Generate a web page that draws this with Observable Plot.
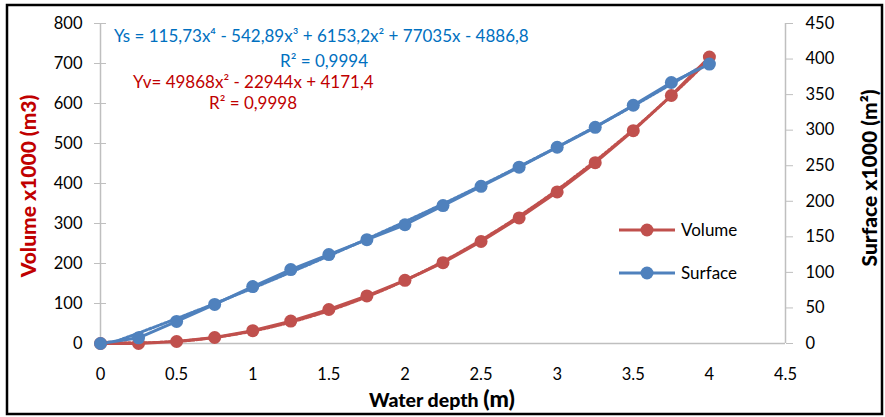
<!DOCTYPE html>
<html>
<head>
<meta charset="utf-8">
<script src="https://cdn.jsdelivr.net/npm/d3@7"></script>
<script src="https://cdn.jsdelivr.net/npm/@observablehq/plot@0.6"></script>
<style>
  html, body { margin: 0; padding: 0; background: #fff; }
  #chart svg { display: block; }
</style>
</head>
<body>
<div id="chart"></div>
<script>
// ---- Data ----
const depth   = [0, 0.25, 0.5, 0.75, 1, 1.25, 1.5, 1.75, 2, 2.25, 2.5, 2.75, 3, 3.25, 3.5, 3.75, 4];
const volume  = [0, 0, 5, 15, 32, 56, 85, 119, 158, 202, 255, 314, 379, 452, 532, 620, 716];
const surface = [0, 8, 31, 55, 80, 104, 125, 146, 167, 194, 221, 248, 276, 304, 335, 367, 393];

// trendline coefficients shown on the chart (m3 and m2, divided by 1000 for display)
const volCoef  = [4171.4, -22944, 49868];                  // c0 + c1 x + c2 x^2
const surfCoef = [-4886.8, 77035, 6153.2, -542.89, 115.73]; // c0 .. c4

const xTicks     = [0, 0.5, 1, 1.5, 2, 2.5, 3, 3.5, 4, 4.5];
const volTicks   = [0, 100, 200, 300, 400, 500, 600, 700, 800];
const surfTicks  = [0, 50, 100, 150, 200, 250, 300, 350, 400, 450];

const eqSurface = "Ys = 115,73x⁴ - 542,89x³ + 6153,2x² + 77035x - 4886,8";
const r2Surface = "R² = 0,9994";
const eqVolume  = "Yv= 49868x² - 22944x + 4171,4";
const r2Volume  = "R² = 0,9998";

// ---- Build ----
const k = 800 / 450; // surface -> volume axis
const volColor = "#c0504d", surfColor = "#4f81bd";
const axisGray = "#bfbfbf";
const font = "Lato, 'Open Sans', sans-serif";

const poly = (c, x) => c.reduce((s, ci, i) => s + ci * Math.pow(x, i), 0);
const fitX = d3.range(0, 4.0001, 0.02);
const volFit  = fitX.map(x => ({x, y: poly(volCoef, x) / 1000}));
const surfFit = fitX.map(x => ({x, y: poly(surfCoef, x) / 1000 * k}));

const vol  = depth.map((d, i) => ({x: d, y: volume[i]}));
const surf = depth.map((d, i) => ({x: d, y: surface[i] * k}));

const plot = Plot.plot({
  width: 885,
  height: 417,
  marginLeft: 100,
  marginRight: 100,
  marginTop: 23,
  marginBottom: 74,
  style: {fontFamily: font, fontSize: "16.5px", color: "#000", background: "#fff"},
  x: {domain: [0, 4.5]},
  y: {domain: [0, 800]},
  marks: [
    Plot.ruleY([0], {stroke: axisGray, strokeWidth: 1.5}),
    Plot.ruleX([0], {stroke: axisGray, strokeWidth: 1.5}),
    Plot.ruleX([4.5], {stroke: axisGray, strokeWidth: 1.5}),
    Plot.axisY(volTicks, {anchor: "left", tickSize: 12, dx: 6, tickPadding: 12, stroke: axisGray, fill: "#000", label: null, fontSize: 16.5}),
    Plot.axisY(surfTicks.map(d => d * k), {anchor: "right", tickSize: 7, tickPadding: 13, stroke: axisGray, fill: "#000", label: null, tickFormat: d => Math.round(d / k), fontSize: 16.5}),
    Plot.axisX(xTicks, {anchor: "bottom", tickSize: 0, tickPadding: 25, fill: "#000", label: null, tickFormat: d => String(d), fontSize: 16.5}),
    Plot.line(volFit, {x: "x", y: "y", stroke: volColor, strokeWidth: 3, strokeDasharray: "2,2", clip: true}),
    Plot.line(surfFit, {x: "x", y: "y", stroke: surfColor, strokeWidth: 3, strokeDasharray: "2,2", clip: true}),
    Plot.line(vol, {x: "x", y: "y", stroke: volColor, strokeWidth: 3}),
    Plot.line(surf, {x: "x", y: "y", stroke: surfColor, strokeWidth: 3}),
    Plot.dot(vol, {x: "x", y: "y", r: 6.5, fill: volColor}),
    Plot.dot(surf, {x: "x", y: "y", r: 6.5, fill: surfColor})
  ]
});

document.getElementById("chart").appendChild(plot);

// ---- decorations: frame, titles, equations, legend ----
const svg = d3.select(plot);
svg.append("rect").attr("x", 7).attr("y", 5).attr("width", 875).attr("height", 409)
  .attr("fill", "none").attr("stroke", "#000").attr("stroke-width", 2.5);

svg.append("text").attr("transform", "translate(36,186) rotate(-90)")
  .attr("text-anchor", "middle").attr("fill", "#c00000")
  .style("font", `900 21px ${font}`).text("Volume x1000 (m3)");

svg.append("text").attr("transform", "translate(877,178) rotate(-90)")
  .attr("text-anchor", "middle").attr("fill", "#000")
  .style("font", `900 21px ${font}`).text("Surface x1000 (m²)");

const xt = svg.append("text").attr("x", 442).attr("y", 407).attr("text-anchor", "middle")
  .attr("fill", "#000").style("font", `900 19.5px ${font}`);
xt.append("tspan").text("Water depth ");
xt.append("tspan").style("font-size", "23px").text("(m)");

const eq = (t, x, y, c) => svg.append("text").attr("x", x).attr("y", y).attr("fill", c)
  .attr("text-anchor", "start").style("font", `17px ${font}`).text(t);
eq(eqSurface, 114, 42, "#0070c0");
eq(r2Surface, 280, 67, "#0070c0");
eq(eqVolume, 133, 88, "#c00000");
eq(r2Volume, 209, 109, "#c00000");

const legend = [["Volume", volColor, 230], ["Surface", surfColor, 273]];
for (const [name, c, y] of legend) {
  svg.append("line").attr("x1", 619).attr("x2", 675).attr("y1", y).attr("y2", y)
    .attr("stroke", c).attr("stroke-width", 3);
  svg.append("circle").attr("cx", 647).attr("cy", y).attr("r", 6.5).attr("fill", c);
  svg.append("text").attr("x", 681).attr("y", y + 6).attr("fill", "#000")
    .attr("text-anchor", "start").style("font", `17px ${font}`).text(name);
}
</script>
</body>
</html>
